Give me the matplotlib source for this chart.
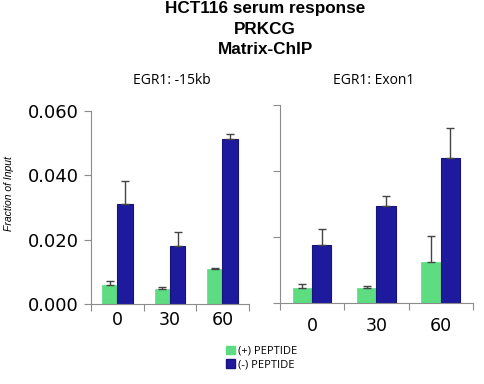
import matplotlib
matplotlib.use("Agg")
import matplotlib.pyplot as plt
import numpy as np
from matplotlib.patches import Patch

categories = ["0", "30", "60"]
panel_titles = ["EGR1: -15kb", "EGR1: Exon1"]
series_names = ["(+) PEPTIDE", "(-) PEPTIDE"]

left_plus = [0.0059, 0.0047, 0.0109]
left_plus_err = [0.0012, 0.0006, 0.0003]
left_minus = [0.0311, 0.0180, 0.0513]
left_minus_err = [0.0071, 0.0044, 0.0015]

right_plus = [0.0046, 0.0046, 0.0125]
right_plus_err = [0.0011, 0.0004, 0.0078]
right_minus = [0.0175, 0.0294, 0.0439]
right_minus_err = [0.0048, 0.0029, 0.0090]

yticks = [0.0, 0.02, 0.04, 0.06]
ytick_labels = ["0.000", "0.020", "0.040", "0.060"]

green = "#5ddc82"
blue = "#1e1a9e"
blue_edge = "#16137a"
spine_c = "#8c8c8c"
err_c = "#444444"

fig = plt.figure(figsize=(4.84, 3.84), dpi=100)
fig.patch.set_facecolor("white")

ax1 = fig.add_axes([0.188, 0.2083, 0.326, 0.5027])
ax2 = fig.add_axes([0.5785, 0.211, 0.3985, 0.5156])

def draw(ax, plus, plus_err, minus, minus_err, width, labels, pad):
    x = np.arange(len(categories))
    ax.bar(x - width / 2, plus, width, color=green, edgecolor=green, linewidth=0.5, zorder=2)
    ax.bar(x + width / 2, minus, width, color=blue, edgecolor=blue_edge, linewidth=0.8, zorder=2)
    ax.errorbar(x - width / 2, plus, yerr=[np.zeros(3), plus_err], fmt="none",
                ecolor=err_c, elinewidth=1.0, capsize=3, capthick=1.0, zorder=3)
    ax.errorbar(x + width / 2, minus, yerr=[np.zeros(3), minus_err], fmt="none",
                ecolor=err_c, elinewidth=1.0, capsize=3, capthick=1.0, zorder=3)
    ax.set_xlim(-0.5, 2.5)
    ax.set_ylim(0, 0.06)
    ax.set_xticks(x)
    ax.set_xticklabels(categories, fontsize=12.5)
    ax.set_xticks([-0.5, 0.5, 1.5, 2.5], minor=True)
    ax.tick_params(axis="x", which="major", length=0, pad=pad)
    ax.tick_params(axis="x", which="minor", length=5, direction="out", color=spine_c, width=0.8)
    ax.set_yticks(yticks)
    if labels:
        ax.set_yticklabels(ytick_labels, fontsize=13)
    else:
        ax.set_yticklabels([])
    ax.tick_params(axis="y", length=5, direction="out", color=spine_c, width=0.8, pad=4)
    for s in ["top", "right"]:
        ax.spines[s].set_visible(False)
    for s in ["left", "bottom"]:
        ax.spines[s].set_color(spine_c)
        ax.spines[s].set_linewidth(0.8)

draw(ax1, left_plus, left_plus_err, left_minus, left_minus_err, 0.29, True, 5)
draw(ax2, right_plus, right_plus_err, right_minus, right_minus_err, 0.30, False, 10)

fig.text(0.018, 1 - 194 / 384, "Fraction of Input", rotation=90, ha="center", va="center",
         fontsize=7.5, style="italic", family="Liberation Sans")

title_lines = ["HCT116 serum response", "PRKCG", "Matrix-ChIP"]
for i, t in enumerate(title_lines):
    fig.text(0.548, 1 - (9 + 20 * i) / 384, t, ha="center", va="center",
             fontsize=12.3, fontweight="bold", family="Liberation Sans")

fig.text(172 / 484, 1 - 80 / 384, panel_titles[0], ha="center", va="center",
         fontsize=10, family="Open Sans")
fig.text(374 / 484, 1 - 80 / 384, panel_titles[1], ha="center", va="center",
         fontsize=10, family="Open Sans")

handles = [Patch(facecolor=green, edgecolor=green), Patch(facecolor=blue, edgecolor=blue_edge)]
fig.legend(handles, series_names, loc="center", bbox_to_anchor=(262 / 484, 1 - 358 / 384),
           frameon=False, handlelength=0.8, handleheight=0.8,
           handletextpad=0.3, labelspacing=0.2, borderpad=0,
           prop={"family": "Open Sans", "size": 8})

fig.savefig("out.png", dpi=100)
